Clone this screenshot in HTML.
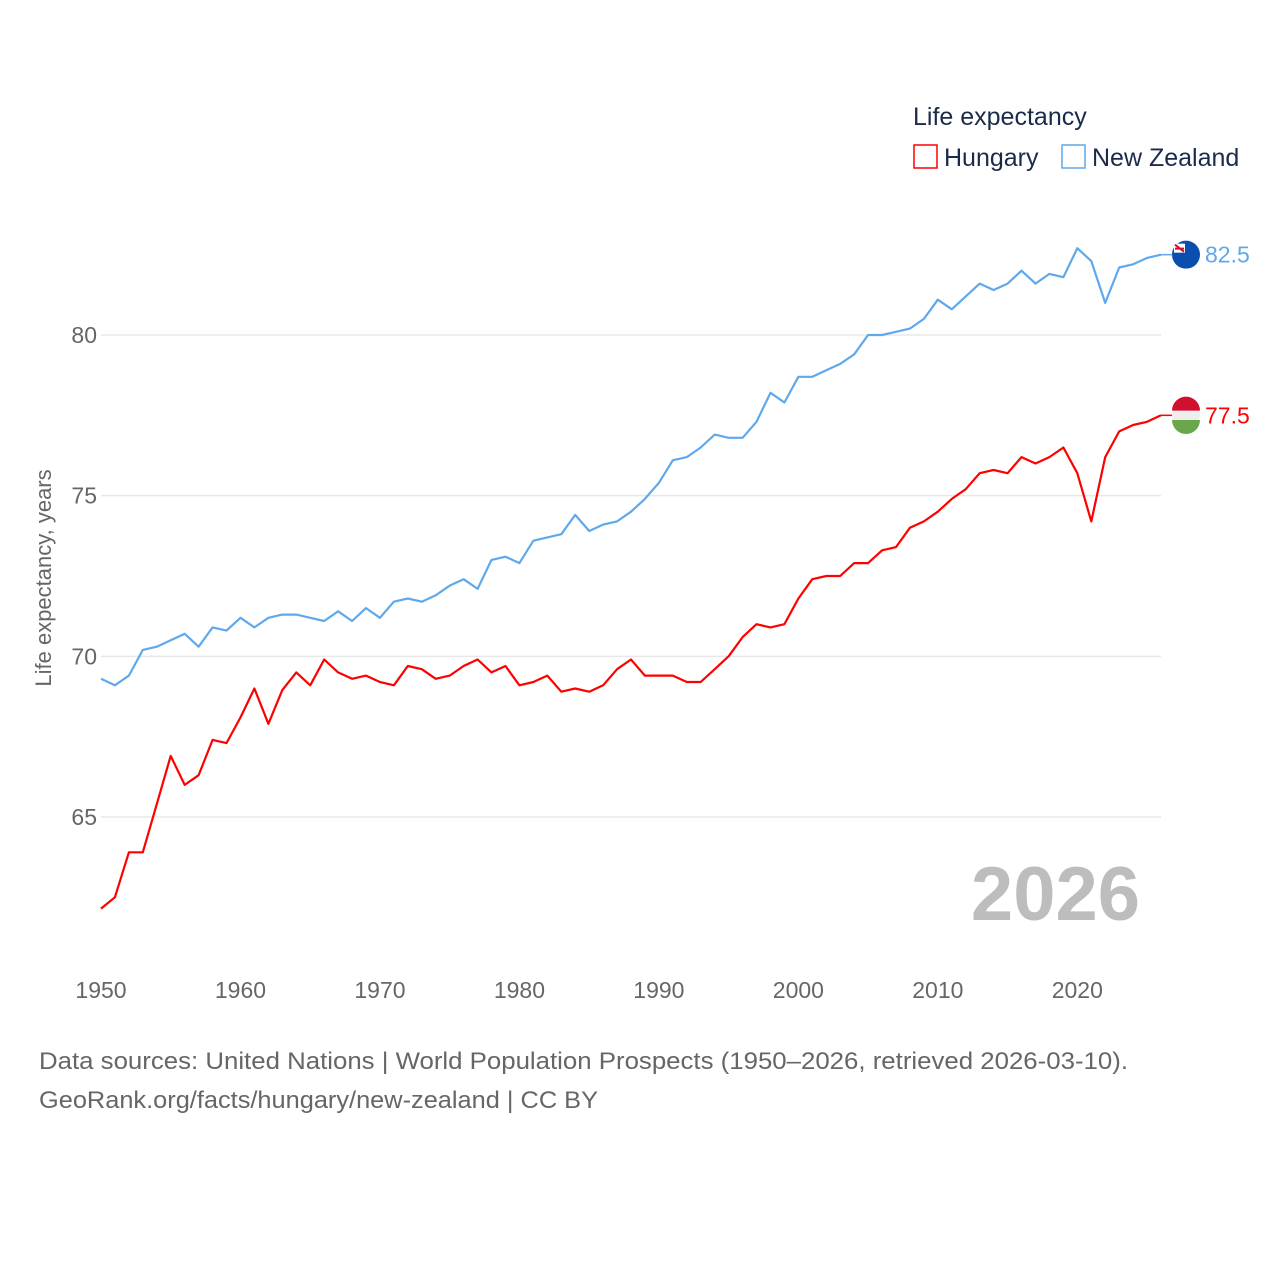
<!DOCTYPE html>
<html><head><meta charset="utf-8">
<style>
body{margin:0;background:#fff;}
svg text{font-family:"Liberation Sans",sans-serif;}
</style></head>
<body>
<svg id="chart" width="1280" height="1280" xmlns="http://www.w3.org/2000/svg">
  <text x="913" y="125" font-size="25" fill="#1a2b4a">Life expectancy</text>
  <g>
    <rect x="914" y="145" width="23" height="23" fill="none" stroke="#ff0000" stroke-width="1.5"/>
    <text x="944" y="166" font-size="25" fill="#1a2b4a">Hungary</text>
  </g>
  <g>
    <rect x="1062" y="145" width="23" height="23" fill="none" stroke="#5fa8ec" stroke-width="1.5"/>
    <text x="1092" y="166" font-size="25" fill="#1a2b4a">New Zealand</text>
  </g>
  <g id="grid"></g>
  <g id="yticks"></g>
  <g id="xticks"></g>
  <text transform="translate(51,578) rotate(-90)" text-anchor="middle" font-size="22" fill="#666">Life expectancy, years</text>
  <text x="1140" y="920" text-anchor="end" font-size="76" font-weight="bold" fill="#bdbdbd">2026</text>
  <g id="series"></g>
  <text x="39" y="1069" font-size="24" fill="#666" textLength="1089" lengthAdjust="spacingAndGlyphs">Data sources: United Nations | World Population Prospects (1950–2026, retrieved 2026-03-10).</text>
  <text x="39" y="1108" font-size="24" fill="#666" textLength="559" lengthAdjust="spacingAndGlyphs">GeoRank.org/facts/hungary/new-zealand | CC BY</text>
</svg>
<script>
const years=[];for(let y=1950;y<=2026;y++)years.push(y);
const hungary=[62.15,62.5,63.9,63.9,65.4,66.9,66.0,66.3,67.4,67.3,68.1,69.0,67.9,68.95,69.5,69.1,69.9,69.5,69.3,69.4,69.2,69.1,69.7,69.6,69.3,69.4,69.7,69.9,69.5,69.7,69.1,69.2,69.4,68.9,69.0,68.9,69.1,69.6,69.9,69.4,69.4,69.4,69.2,69.2,69.6,70.0,70.6,71.0,70.9,71.0,71.8,72.4,72.5,72.5,72.9,72.9,73.3,73.4,74.0,74.2,74.5,74.9,75.2,75.7,75.8,75.7,76.2,76.0,76.2,76.5,75.7,74.2,76.2,77.0,77.2,77.3,77.5];
const newZealand=[69.3,69.1,69.4,70.2,70.3,70.5,70.7,70.3,70.9,70.8,71.2,70.9,71.2,71.3,71.3,71.2,71.1,71.4,71.1,71.5,71.2,71.7,71.8,71.7,71.9,72.2,72.4,72.1,73.0,73.1,72.9,73.6,73.7,73.8,74.4,73.9,74.1,74.2,74.5,74.9,75.4,76.1,76.2,76.5,76.9,76.8,76.8,77.3,78.2,77.9,78.7,78.7,78.9,79.1,79.4,80.0,80.0,80.1,80.2,80.5,81.1,80.8,81.2,81.6,81.4,81.6,82.0,81.6,81.9,81.8,82.7,82.3,81.0,82.1,82.2,82.4,82.5];
const yTicks=[65,70,75,80];
const xTicks=[1950,1960,1970,1980,1990,2000,2010,2020];
const NS="http://www.w3.org/2000/svg";
const xS=y=>101+(y-1950)*(1161-101)/76;
const yS=v=>335+(80-v)*(817-335)/15;
function mk(tag,attrs,parent){const e=document.createElementNS(NS,tag);for(const k in attrs)e.setAttribute(k,attrs[k]);parent.appendChild(e);return e;}
const grid=document.getElementById('grid'),yt=document.getElementById('yticks'),xt=document.getElementById('xticks'),ser=document.getElementById('series');
yTicks.forEach(t=>{
  const l=mk('line',{x1:101,x2:1161,y1:yS(t),y2:yS(t),stroke:'#e8e8e8','stroke-width':1.5},grid);
  
  
  const tx=mk('text',{x:97,y:yS(t)+8,'text-anchor':'end','font-size':23,fill:'#666'},yt);
  tx.textContent=t;
  
  
});
xTicks.forEach(t=>{
  const tx=mk('text',{x:xS(t),y:998,'text-anchor':'middle','font-size':23,fill:'#666'},xt);
  tx.textContent=t;
  
  
});
function drawSeries(vals,color,name){
  const d=vals.map((v,i)=>(i?'L':'M')+xS(years[i]).toFixed(1)+','+yS(v).toFixed(1)).join('');
  const p=mk('path',{d:d,fill:'none',stroke:color,'stroke-width':2.2,'stroke-linejoin':'round'},ser);
  
  
  const last=vals[vals.length-1],ly=yS(last);
  mk('line',{x1:1161,x2:1172,y1:ly,y2:ly,stroke:color,'stroke-width':1.5},ser);
  const g=mk('g',{},ser);
  
  
  if(name==='hungary'){
    mk('circle',{cx:1186,cy:ly,r:14,fill:'#eee'},g);
    mk('path',{d:`M1172,${ly-4.7}A14,14 0 0 1 1200,${ly-4.7}Z`,fill:'#d0102e'},g);
    mk('path',{d:`M1172,${ly+4.7}A14,14 0 0 0 1200,${ly+4.7}Z`,fill:'#6aa74a'},g);
  }else{
    mk('circle',{cx:1186,cy:ly,r:14,fill:'#0a4fb0'},g);
    mk('rect',{x:1174,y:ly-11,width:11,height:9,fill:'#fff'},g);
    mk('path',{d:`M1175,${ly-10}L1184,${ly-3}M1175,${ly-6}L1184,${ly-6}`,stroke:'#d0102e','stroke-width':2},g);
  }
  const t=mk('text',{x:1205,y:ly+8,'font-size':23,fill:color},ser);
  t.textContent=last.toFixed(1);
  
  
}
drawSeries(newZealand,'#5fa8ec','new-zealand');
drawSeries(hungary,'#ff0000','hungary');
</script>
</body></html>
